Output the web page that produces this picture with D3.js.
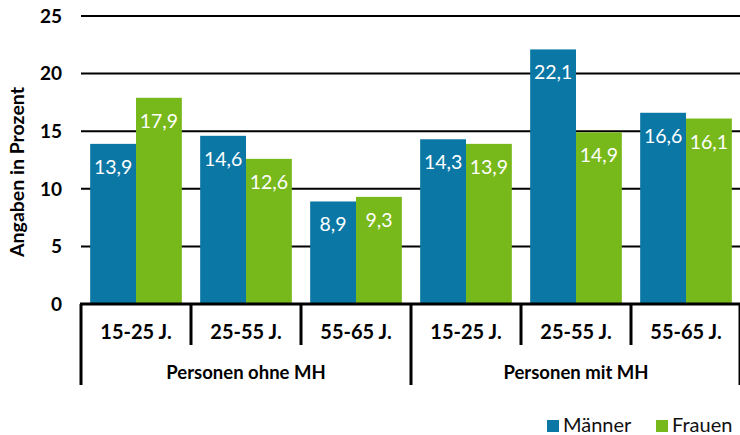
<!DOCTYPE html>
<html><head><meta charset="utf-8">
<script src="https://cdn.jsdelivr.net/npm/d3@7"></script>
<style>body{margin:0;background:#fff}svg{display:block}</style>
</head><body>
<script>
const groups = ["Personen ohne MH", "Personen mit MH"];
const ageGroups = ["15-25 J.", "25-55 J.", "55-65 J."];
const series = ["Männer", "Frauen"];
const maenner = [13.9, 14.6, 8.9, 14.3, 22.1, 16.6];
const frauen  = [17.9, 12.6, 9.3, 13.9, 14.9, 16.1];
const yTicks = [0, 5, 10, 15, 20, 25];
const colors = ["#0b77a5", "#77b81a"];

const W = 740, H = 435;
const font = "Lato, 'Open Sans', sans-serif";
const svg = d3.select("body").append("svg").attr("width", W).attr("height", H);

const cats = [];
groups.forEach((g, gi) => ageGroups.forEach((a, ai) => cats.push({id: gi + "-" + ai, g, a, gi, ai})));
const data = cats.map((c, i) => ({...c, vals: [maenner[i], frauen[i]]}));

const x = d3.scaleBand().domain(cats.map(c => c.id)).range([81, 741]).paddingInner(0).paddingOuter(0);
const xs = d3.scaleBand().domain(series).range([0, x.bandwidth()]).paddingOuter(0.2).paddingInner(0);
const y = d3.scaleLinear().domain([0, 25]).range([304, 16]);

// gridlines
svg.append("g").selectAll("line").data(yTicks.filter(t => t > 0)).join("line")
  .attr("x1", 81).attr("x2", W).attr("y1", d => y(d)).attr("y2", d => y(d))
  .attr("stroke", "#000").attr("stroke-width", 2);

// y tick labels
svg.append("g").selectAll("text").data(yTicks).join("text")
  .attr("x", 62).attr("y", d => y(d)).attr("dy", "0.36em")
  .attr("text-anchor", "end").attr("font-family", font).attr("font-weight", "bold")
  .attr("font-size", 19).text(d => d);

// y title
svg.append("text").attr("transform", `translate(24,172) rotate(-90)`)
  .attr("text-anchor", "middle").attr("font-family", font).attr("font-weight", "bold")
  .attr("font-size", 19.5).text("Angaben in Prozent");

// bars
const gBars = svg.append("g").selectAll("g").data(data).join("g")
  .attr("transform", d => `translate(${x(d.id)},0)`);
gBars.selectAll("rect").data(d => d.vals.map((v, i) => ({v, s: series[i], i}))).join("rect")
  .attr("x", d => xs(d.s)).attr("width", xs.bandwidth())
  .attr("y", d => y(d.v)).attr("height", d => y(0) - y(d.v))
  .attr("fill", d => colors[d.i]);
gBars.selectAll("text").data(d => d.vals.map((v, i) => ({v, s: series[i], i}))).join("text")
  .attr("x", d => xs(d.s) + xs.bandwidth() / 2).attr("y", d => y(d.v) + 30)
  .attr("text-anchor", "middle").attr("fill", "#fff").attr("font-family", font)
  .attr("font-size", 19.5).text(d => d3.format(".1f")(d.v).replace(".", ","));

// baseline
svg.append("line").attr("x1", 80).attr("x2", W).attr("y1", y(0)).attr("y2", y(0))
  .attr("stroke", "#000").attr("stroke-width", 3);

// category separators
const sepX = cats.map(c => x(c.id)).concat([x.range()[1] - 1]);
svg.append("g").selectAll("line").data(sepX).join("line")
  .attr("x1", d => d).attr("x2", d => d).attr("y1", y(0))
  .attr("y2", (d, i) => (i % 3 === 0) ? 385 : 345)
  .attr("stroke", "#000").attr("stroke-width", 3);

// age labels
svg.append("g").selectAll("text").data(cats).join("text")
  .attr("x", d => x(d.id) + x.bandwidth() / 2).attr("y", 332).attr("dy", "0.36em")
  .attr("text-anchor", "middle").attr("font-family", font).attr("font-weight", "bold")
  .attr("font-size", 20).text(d => d.a);

// group labels
svg.append("g").selectAll("text").data(groups).join("text")
  .attr("x", (d, gi) => (x(gi + "-0") + x(gi + "-2") + x.bandwidth()) / 2).attr("y", 372).attr("dy", "0.36em")
  .attr("text-anchor", "middle").attr("font-family", font).attr("font-weight", "bold")
  .attr("font-size", 18.5).text(d => d);

// legend
const legX = [547, 656];
const leg = svg.append("g").selectAll("g").data(series).join("g")
  .attr("transform", (d, i) => `translate(${legX[i]},420)`);
leg.append("rect").attr("width", 12).attr("height", 12).attr("fill", (d, i) => colors[i]);
leg.append("text").attr("x", 16).attr("y", 12).attr("font-family", font)
  .attr("font-size", 20).attr("fill", "#111").text(d => d);
</script>
</body></html>
